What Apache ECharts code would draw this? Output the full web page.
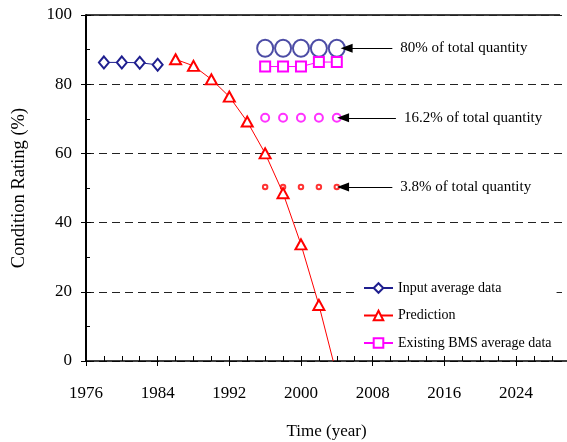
<!DOCTYPE html>
<html>
<head>
<meta charset="utf-8">
<script src="https://cdn.jsdelivr.net/npm/echarts@6/dist/echarts.min.js"></script>
<style>
html, body { margin: 0; padding: 0; background: #fff; }
#main { width: 567px; height: 442px; }
</style>
</head>
<body>
<div id="main"></div>
<script>
var app = echarts.init(document.getElementById('main'));

// data
var inputYears = [1978, 1980, 1982, 1984];
var inputValues = [86.3, 86.3, 86.2, 85.6];

var predYears = [1986, 1988, 1990, 1992, 1994, 1996, 1998, 2000, 2002, 2003.6];
var predValues = [87.2, 85.3, 81.4, 76.4, 69.2, 60.0, 48.5, 33.7, 16.2, 0];

var bmsYears = [1996, 1998, 2000, 2002, 2004];
var bmsValues = [85.1, 85.1, 85.1, 86.4, 86.4];

var shareYears = [1996, 1998, 2000, 2002, 2004];
var share80 = [90.4, 90.4, 90.4, 90.4, 90.4];
var share16 = [70.3, 70.3, 70.3, 70.3, 70.3];
var share4 = [50.3, 50.3, 50.3, 50.3, 50.3];

var notes = ['80% of total quantity', '16.2% of total quantity', '3.8% of total quantity'];
var arrowFrom = [2010.2, 2010.6, 2010.2];
var arrowTo = [2005.1, 2004.7, 2004.7];

// x ticks: labelled every 8 years, small ticks every 2
var labelYears = [1976, 1984, 1992, 2000, 2008, 2016, 2024];
var tickYears = [1976, 1978, 1980, 1982, 1984, 1986, 1988, 1990, 1992, 1994, 1996, 1998,
    2000, 2002, 2004, 2006, 2008, 2010, 2012, 2014, 2016, 2018, 2020, 2022, 2024, 2026, 2028];

function pairs(xs, ys) {
    return xs.map(function (x, i) { return [x, ys[i]]; });
}

function arrow(i, y) {
    return {
        silent: true,
        symbol: ['none', 'triangle'],
        symbolSize: [9, 12],
        lineStyle: { color: '#000', width: 1, type: 'solid' },
        itemStyle: { color: '#000' },
        label: {
            show: true,
            position: 'start',
            distance: 8,
            formatter: notes[i],
            color: '#000',
            fontFamily: 'Liberation Serif',
            fontSize: 15
        },
        data: [[{ coord: [arrowFrom[i], y] }, { coord: [arrowTo[i], y] }]]
    };
}

var predData = pairs(predYears, predValues);
// the line runs on to zero without a marker
predData[predData.length - 1] = { value: predData[predData.length - 1], symbol: 'none' };

var font = 'Liberation Serif';

// figure is cut off on the right, so the axis just stops at the edge
option = {
    animation: false,
    textStyle: { fontFamily: font, color: '#000' },
    grid: { left: 86, right: 0, top: 15, bottom: 81, outerBoundsMode: 'none' },
    legend: {
        orient: 'vertical',
        left: 358,
        top: 276,
        padding: 5,
        backgroundColor: '#fff',
        itemWidth: 29,
        itemHeight: 12,
        itemGap: 13.5,
        textStyle: { fontFamily: font, fontSize: 14, color: '#000' },
        data: ['Input average data', 'Prediction', 'Existing BMS average data']
    },
    xAxis: [
        {
            type: 'value',
            min: 1976,
            max: 2029.7,
            name: 'Time (year)',
            nameLocation: 'middle',
            nameGap: 62,
            nameTextStyle: { fontFamily: font, fontSize: 17, color: '#000' },
            axisLine: { lineStyle: { color: '#000', width: 1.5 } },
            axisTick: { inside: true, length: 5, customValues: tickYears, lineStyle: { color: '#000' } },
            axisLabel: {
                margin: 24,
                fontSize: 17,
                color: '#000',
                customValues: labelYears,
                formatter: function (v) { return String(v); }
            },
            splitLine: { show: false }
        },
        {
            type: 'value',
            position: 'top',
            offset: -346,
            min: 1976,
            max: 2029.7,
            axisLine: { show: false },
            axisTick: { inside: true, length: 5, customValues: labelYears, lineStyle: { color: '#000' } },
            axisLabel: { show: false },
            splitLine: { show: false }
        }
    ],
    yAxis: [
        {
            type: 'value',
            min: 0,
            max: 100,
            interval: 20,
            name: 'Condition Rating (%)',
            nameLocation: 'middle',
            nameGap: 57,
            nameTextStyle: { fontFamily: font, fontSize: 18.5, color: '#000' },
            axisLine: { lineStyle: { color: '#000', width: 2 } },
            axisTick: { inside: true, length: 5, lineStyle: { color: '#000' } },
            minorTick: { show: true, splitNumber: 2, length: 4, lineStyle: { color: '#000' } },
            axisLabel: { margin: 14, fontSize: 17, color: '#000' },
            splitLine: {
                show: true,
                lineStyle: { color: '#222', width: 1, type: [8, 5] }
            }
        },
        {
            type: 'value',
            position: 'right',
            offset: -481,
            min: 0,
            max: 100,
            interval: 20,
            axisLine: { show: false },
            axisTick: { inside: true, length: 5, lineStyle: { color: '#000' } },
            axisLabel: { show: false },
            splitLine: { show: false }
        }
    ],
    graphic: [
        {
            type: 'line',
            shape: { x1: 86, y1: 15, x2: 560, y2: 15 },
            style: { stroke: '#000', lineWidth: 1.5 },
            silent: true
        }
    ],
    series: [
        {
            name: 'Input average data',
            type: 'line',
            data: pairs(inputYears, inputValues),
            symbol: 'emptyDiamond',
            symbolSize: [10, 12],
            color: '#1f1f8f',
            lineStyle: { width: 1, color: '#1f1f8f' },
            itemStyle: { color: '#1f1f8f', borderWidth: 1 }
        },
        {
            name: 'Prediction',
            type: 'line',
            data: predData,
            symbol: 'emptyTriangle',
            symbolSize: [11, 10],
            color: '#ff0000',
            lineStyle: { width: 1, color: '#ff0000' },
            itemStyle: { color: '#ff0000', borderWidth: 1 }
        },
        {
            name: 'Existing BMS average data',
            type: 'line',
            data: pairs(bmsYears, bmsValues),
            symbol: 'emptyRect',
            symbolSize: 10,
            color: '#ff00ff',
            lineStyle: { width: 1, color: '#ff00ff' },
            itemStyle: { color: '#ff00ff', borderWidth: 1 }
        },
        {
            name: 'share80',
            type: 'scatter',
            data: pairs(shareYears, share80),
            symbol: 'emptyCircle',
            symbolSize: [16, 17],
            itemStyle: { color: '#1f1f8f', borderColor: '#1f1f8f', borderWidth: 1.2 },
            markLine: arrow(0, share80[0])
        },
        {
            name: 'share16',
            type: 'scatter',
            data: pairs(shareYears, share16),
            symbol: 'emptyCircle',
            symbolSize: 8,
            itemStyle: { color: '#ff00ff', borderColor: '#ff00ff', borderWidth: 1 },
            markLine: arrow(1, share16[0])
        },
        {
            name: 'share4',
            type: 'scatter',
            data: pairs(shareYears, share4),
            symbol: 'emptyCircle',
            symbolSize: 4.5,
            itemStyle: { color: '#ff0000', borderColor: '#ff0000', borderWidth: 1 },
            markLine: arrow(2, share4[0])
        }
    ]
};

app.setOption(option);
</script>
</body>
</html>
